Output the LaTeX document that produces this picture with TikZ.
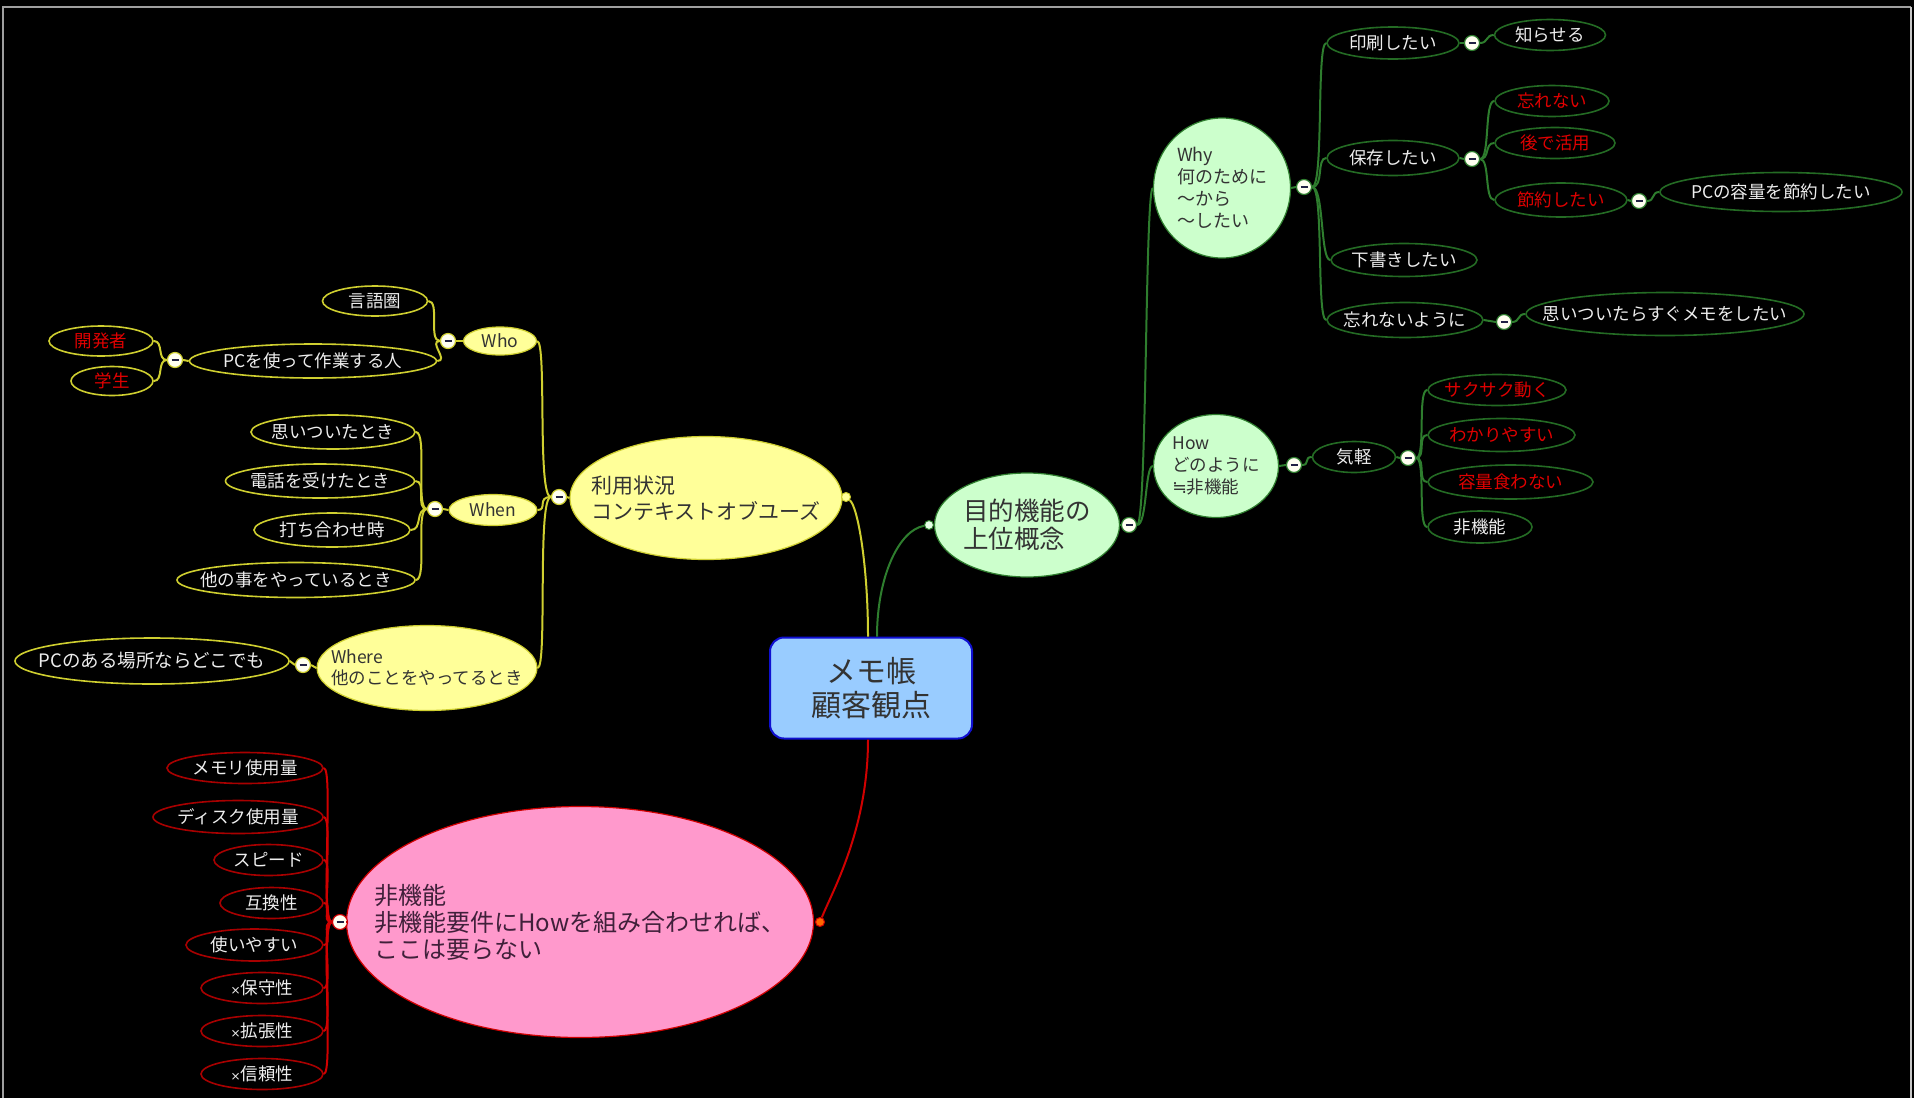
\documentclass[tikz,border=0pt]{standalone}
\usepackage{fontspec}
\setmainfont{Noto Sans CJK JP}
\newfontfamily\symfont{DejaVu Sans}
\usetikzlibrary{shapes.geometric}
\definecolor{yfill}{HTML}{FFFF99}
\definecolor{yline}{HTML}{CFCF30}
\definecolor{gfill}{HTML}{CCFFCC}
\definecolor{gline}{HTML}{2E7D2E}
\definecolor{gleafc}{HTML}{246B24}
\definecolor{pfill}{HTML}{FF99CC}
\definecolor{rline}{HTML}{D00000}
\definecolor{rleafc}{HTML}{A80000}
\definecolor{bfill}{HTML}{99CCFF}
\definecolor{bline}{HTML}{1010D0}
\definecolor{txtw}{HTML}{EEEEEE}
\definecolor{redtxt}{HTML}{E00000}
\definecolor{darktxt}{HTML}{333333}
\definecolor{ptxt}{HTML}{40203A}
\definecolor{btnfill}{HTML}{FFFFF0}
\definecolor{minuscol}{HTML}{222244}
\newcommand{\smx}{{\symfont\fontsize{12}{14}\selectfont ×}}
\begin{document}
\begin{tikzpicture}[x=1pt,y=-1pt,
  sz/.style 2 args={minimum width=#1pt, minimum height=#2pt},
  ell/.style={ellipse, inner xsep=-300pt, inner ysep=-300pt},
  leaf/.style={ell, draw=#1, line width=1.6pt, fill=black, text=txtw,
    font=\fontsize{17.5}{21}\selectfont},
  yleaf/.style={leaf=yline},
  gleaf/.style={leaf=gleafc},
  pleaf/.style={leaf=rleafc},
  redt/.style={text=redtxt},
  ybig/.style={ell, draw=yline, line width=1.2pt, fill=yfill, text=darktxt, align=left},
  gbig/.style={ell, draw=gline, line width=1.2pt, fill=gfill, text=darktxt, align=left},
  btn/.style={circle, draw=#1, fill=btnfill, minimum size=15pt, inner sep=0pt, line width=1.2pt,
    path picture={\draw[line width=2.2pt, minuscol] ([xshift=-3.5pt]path picture bounding box.center) -- ([xshift=3.5pt]path picture bounding box.center);}},
  dotmark/.style={circle, draw=#1, minimum size=9pt, inner sep=0pt, line width=1pt},
  yl/.style={draw=yline, line width=2pt},
  gl/.style={draw=gline, line width=2pt},
  rl/.style={draw=rline, line width=2pt}
]
\useasboundingbox (0,0) rectangle (1914,1098);
\fill[black] (0,0) rectangle (1914,1098);
\draw[gray!75, line width=2pt] (2.5,1098) -- (2.5,7) -- (1911,7);
\draw[gray!45, line width=2pt] (1911,7) -- (1911,1098);

% ---------- central ----------
\node[rectangle, rounded corners=14pt, draw=bline, line width=2pt, fill=bfill, text=darktxt,
  sz={202}{101}, align=center, font=\fontsize{30}{34}\selectfont] (central) at (871,688) {メモ帳\\顧客観点};

% ---------- yellow branch ----------
\node[ybig, sz={272}{123}, font=\fontsize{21}{26}\selectfont] (ymain) at (706,498) {利用状況\\コンテキストオブユーズ};
\node[dotmark=yline, fill=yfill] (ydot) at (846,497) {};
\node[btn=yline] (bY) at (559,497) {};

\node[ybig, sz={73}{28}, font=\fontsize{17.5}{21}\selectfont] (who) at (500,341) {Who};
\node[btn=yline] (bWho) at (448,341) {};
\node[yleaf, sz={105}{30}] (gengo) at (375,301) {言語圏};
\node[yleaf, sz={247}{34}] (pcuser) at (313,361) {PCを使って作業する人};
\node[btn=yline] (bPC) at (175,360) {};
\node[yleaf, redt, sz={104}{30}] (kaihatsu) at (101,341) {開発者};
\node[yleaf, redt, sz={82}{29}] (gakusei) at (112,381) {学生};

\node[ybig, sz={88}{31}, font=\fontsize{17.5}{21}\selectfont] (when) at (493,510) {When};
\node[btn=yline] (bWhen) at (435,509) {};
\node[yleaf, sz={164}{34}] (w1) at (333,432) {思いついたとき};
\node[yleaf, sz={189}{34}] (w2) at (320,481) {電話を受けたとき};
\node[yleaf, sz={156}{34}] (w3) at (332,530) {打ち合わせ時};
\node[yleaf, sz={238}{35}] (w4) at (296,580) {他の事をやっているとき};

\node[ybig, sz={220}{85}, font=\fontsize{17.5}{21}\selectfont] (where) at (427,668) {Where\\他のことをやってるとき};
\node[btn=yline] (bWhere) at (303,665) {};
\node[yleaf, sz={274}{46}, font=\fontsize{18.5}{22}\selectfont] (anywhere) at (152,661) {PCのある場所ならどこでも};

\draw[yl] (ydot) .. controls +(12,10) and +(0,-70) .. ([xshift=-3pt]central.north);
\draw[yl] (ymain.west) -- (bY.east);
\draw[yl] (bY.west) .. controls +(-14,0) and +(10,0) .. (who.east);
\draw[yl] (bY.west) .. controls +(-14,0) and +(10,0) .. (when.east);
\draw[yl] (bY.west) .. controls +(-14,0) and +(10,0) .. (where.east);
\draw[yl] (who.west) -- (bWho.east);
\draw[yl] (bWho.west) .. controls +(-12,0) and +(12,0) .. (gengo.east);
\draw[yl] (bWho.west) .. controls +(-12,0) and +(12,0) .. (pcuser.east);
\draw[yl] (pcuser.west) -- (bPC.east);
\draw[yl] (bPC.west) .. controls +(-10,0) and +(10,0) .. (kaihatsu.east);
\draw[yl] (bPC.west) .. controls +(-10,0) and +(10,0) .. (gakusei.east);
\draw[yl] (when.west) -- (bWhen.east);
\foreach \c in {w1,w2,w3,w4}
  \draw[yl] (bWhen.west) .. controls +(-12,0) and +(12,0) .. (\c.east);
\draw[yl] (where.west) -- (bWhere.east);
\draw[yl] (bWhere.west) -- (anywhere.east);

% ---------- pink branch ----------
\node[ell, draw=rline, line width=1.2pt, fill=pfill, text=ptxt, align=left,
  sz={467}{231}, font=\fontsize{24}{27}\selectfont] (pmain) at (580,922)
  {非機能\\非機能要件にHowを組み合わせれば、\\ここは要らない};
\node[dotmark=rline, fill=orange!80!red] (pdot) at (820,922) {};
\node[btn=rline] (bP) at (340,922) {};
\node[pleaf, sz={156}{31}] (p1) at (245,768) {メモリ使用量};
\node[pleaf, sz={170}{33}] (p2) at (238,817) {ディスク使用量};
\node[pleaf, sz={109}{31}] (p3) at (268.5,860) {スピード};
\node[pleaf, sz={103}{31}] (p4) at (271.5,903) {互換性};
\node[pleaf, sz={137}{32}] (p5) at (254.5,945) {使いやすい};
\node[pleaf, sz={122}{31}] (p6) at (262,988) {\smx 保守性};
\node[pleaf, sz={122}{31}] (p7) at (262,1031) {\smx 拡張性};
\node[pleaf, sz={122}{31}] (p8) at (262,1074) {\smx 信頼性};

\draw[rl] ([xshift=-3pt]central.south) .. controls +(0,90) and +(12,-30) .. (pdot);
\draw[rl] (pmain.west) -- (bP.east);
\foreach \c in {p1,p2,p3,p4,p5,p6,p7,p8}
  \draw[rl] (bP.west) .. controls +(-12,0) and +(10,0) .. (\c.east);

% ---------- green branch ----------
\node[gbig, sz={185}{104}, font=\fontsize{25.5}{28}\selectfont] (gmain) at (1027,525) {目的機能の\\上位概念};
\node[dotmark=gline, fill=gfill!50!white] (gdot) at (929,525) {};
\node[btn=gline] (bG) at (1129,525) {};

\node[gbig, sz={137}{140}, font=\fontsize{18}{22}\selectfont] (why) at (1222,188) {Why\\何のために\\～から\\～したい};
\node[btn=gline] (bWhy) at (1304,187) {};
\node[gleaf, sz={132}{32}] (insatsu) at (1393,43) {印刷したい};
\node[btn=gline] (bIns) at (1472,43) {};
\node[gleaf, sz={111}{31}] (shiraseru) at (1550,35) {知らせる};
\node[gleaf, sz={132}{35}] (hozon) at (1393,158) {保存したい};
\node[btn=gline] (bHoz) at (1472,159) {};
\node[gleaf, redt, sz={114}{31}] (wasure) at (1552,101) {忘れない};
\node[gleaf, redt, sz={120}{31}] (atode) at (1555,143) {後で活用};
\node[gleaf, redt, sz={132}{34}] (setsu) at (1561,200) {節約したい};
\node[btn=gline] (bSet) at (1639,201) {};
\node[gleaf, sz={242}{39}] (pcyoryo) at (1781,192) {PCの容量を節約したい};
\node[gleaf, sz={146}{33}] (shitagaki) at (1404,260) {下書きしたい};
\node[gleaf, sz={156}{35}] (wasureyo) at (1405,320) {忘れないように};
\node[btn=gline] (bWas) at (1504,322) {};
\node[gleaf, sz={278}{43}] (omoitsuki) at (1665,314) {思いついたらすぐメモをしたい};

\node[gbig, sz={125}{103}, font=\fontsize{17.5}{22}\selectfont] (how) at (1216,466) {How\\どのように\\{\symfont ≒}非機能};
\node[btn=gline] (bHow) at (1294,465) {};
\node[gleaf, sz={83}{31}] (kigaru) at (1354,457) {気軽};
\node[btn=gline] (bKig) at (1408,458) {};
\node[gleaf, redt, sz={138}{31}] (h1) at (1497,390) {サクサク動く};
\node[gleaf, redt, sz={147}{33}] (h2) at (1501.5,435) {わかりやすい};
\node[gleaf, redt, sz={165}{34}] (h3) at (1510.5,482) {容量食わない};
\node[gleaf, sz={104}{32}] (h4) at (1480,527) {非機能};

\draw[gl] (gdot) .. controls +(-30,5) and +(0,-60) .. ([xshift=6pt]central.north);
\draw[gl] (gmain.east) -- (bG.west);
\draw[gl] (bG.east) .. controls +(10,0) and +(-8,0) .. (why.west);
\draw[gl] (bG.east) .. controls +(10,0) and +(-8,0) .. (how.west);
\draw[gl] (why.east) -- (bWhy.west);
\foreach \c in {insatsu,hozon,shitagaki,wasureyo}
  \draw[gl] (bWhy.east) .. controls +(12,0) and +(-10,0) .. (\c.west);
\draw[gl] (insatsu.east) -- (bIns.west);
\draw[gl] (bIns.east) .. controls +(8,0) and +(-8,0) .. (shiraseru.west);
\draw[gl] (hozon.east) -- (bHoz.west);
\foreach \c in {wasure,atode,setsu}
  \draw[gl] (bHoz.east) .. controls +(10,0) and +(-10,0) .. (\c.west);
\draw[gl] (setsu.east) -- (bSet.west);
\draw[gl] (bSet.east) .. controls +(8,0) and +(-8,0) .. (pcyoryo.west);
\draw[gl] (wasureyo.east) -- (bWas.west);
\draw[gl] (bWas.east) .. controls +(8,0) and +(-8,0) .. (omoitsuki.west);
\draw[gl] (how.east) -- (bHow.west);
\draw[gl] (bHow.east) .. controls +(8,0) and +(-8,0) .. (kigaru.west);
\draw[gl] (kigaru.east) -- (bKig.west);
\foreach \c in {h1,h2,h3,h4}
  \draw[gl] (bKig.east) .. controls +(10,0) and +(-10,0) .. (\c.west);
\end{tikzpicture}
\end{document}
